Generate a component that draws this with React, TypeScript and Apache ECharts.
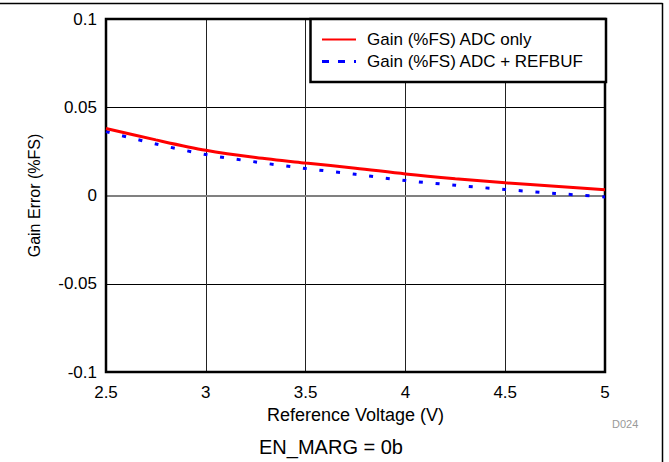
import React, { useEffect, useRef } from "react";
import * as echarts from "echarts";

const voltages = [2.5, 2.75, 3.0, 3.25, 3.5, 3.75, 4.0, 4.25, 4.5, 4.75, 5.0];
const adcOnly = [0.038, 0.0315, 0.0256, 0.0215, 0.0184, 0.0155, 0.0122, 0.0095, 0.0072, 0.0052, 0.0032];
const adcRefbuf = [0.0362, 0.0292, 0.0232, 0.019, 0.0153, 0.012, 0.0085, 0.0058, 0.0034, 0.0012, -0.0008];
const seriesNames = ["Gain (%FS) ADC only", "Gain (%FS) ADC + REFBUF"];
const yTickLabels: Record<string, string> = { "-0.1": "-0.1", "-0.05": "-0.05", "0": "0", "0.05": "0.05", "0.1": "0.1" };
const xTickLabels: Record<string, string> = { "2.5": "2.5", "3": "3", "3.5": "3.5", "4": "4", "4.5": "4.5", "5": "5" };

const FONT = "Liberation Sans, Arial, sans-serif";

export default function App() {
  const ref = useRef<HTMLDivElement>(null);
  useEffect(() => {
    if (!ref.current) return;
    const chart = echarts.init(ref.current, undefined, { renderer: "svg" });
    const pairs = (ys: number[]) => voltages.map((v, i) => [v, ys[i]]);
    chart.setOption({
      animation: false,
      backgroundColor: "#ffffff",
      textStyle: { fontFamily: FONT },
      grid: {
        left: 106,
        right: 64,
        top: 19,
        bottom: 90,
        show: true,
        borderColor: "#000",
        borderWidth: 2.5,
        backgroundColor: "transparent",
        z: 3,
      },
      xAxis: {
        type: "value",
        min: 2.5,
        max: 5,
        interval: 0.5,
        name: "Reference Voltage (V)",
        nameLocation: "middle",
        nameGap: 34,
        nameTextStyle: { fontSize: 18, color: "#000", fontFamily: FONT },
        axisLine: { show: false },
        axisTick: { show: false },
        axisLabel: {
          fontSize: 17,
          color: "#000",
          margin: 12,
          fontFamily: FONT,
          formatter: (v: number) => xTickLabels[String(Math.round(v * 100) / 100)] ?? String(v),
        },
        splitLine: { show: true, lineStyle: { color: "#222", width: 1 } },
      },
      yAxis: {
        type: "value",
        min: -0.1,
        max: 0.1,
        interval: 0.05,
        name: "Gain Error (%FS)",
        nameLocation: "middle",
        nameGap: 64,
        nameTextStyle: { fontSize: 16, color: "#000", fontFamily: FONT },
        axisLine: { show: false },
        axisTick: { show: false },
        axisLabel: {
          fontSize: 17,
          color: "#000",
          margin: 9,
          fontFamily: FONT,
          formatter: (v: number) => yTickLabels[String(Math.round(v * 1000) / 1000)] ?? String(v),
        },
        splitLine: {
          show: true,
          lineStyle: { color: ["#000", "#000", "#808080", "#000", "#000"], width: 1 },
        },
      },
      legend: {
        orient: "vertical",
        right: 63,
        top: 19,
        backgroundColor: "#fff",
        borderColor: "#000",
        borderWidth: 2.5,
        borderRadius: 0,
        padding: [12, 9, 12, 10],
        itemWidth: 34,
        itemHeight: 16,
        itemGap: 5,
        itemStyle: { opacity: 0 },
        textStyle: {
          fontSize: 17,
          lineHeight: 16,
          color: "#000",
          fontFamily: FONT,
          width: 230,
          padding: [0, 0, 0, 6],
        },
        data: [
          { name: seriesNames[0], itemStyle: { opacity: 0 } },
          { name: seriesNames[1], itemStyle: { opacity: 0 }, lineStyle: { type: [7, 9], width: 3, color: "#0000ff" } },
        ],
        z: 10,
      },
      series: [
        {
          name: seriesNames[0],
          type: "line",
          data: pairs(adcOnly),
          smooth: 0.3,
          symbol: "none",
          lineStyle: { color: "#ff0000", width: 3 },
          itemStyle: { color: "#ff0000" },
          z: 5,
          markLine: {
            silent: true,
            symbol: "none",
            label: { show: false },
            lineStyle: { color: "#808080", width: 2, type: "solid" },
            data: [{ yAxis: 0 }],
            z: 1,
          },
        },
        {
          name: seriesNames[1],
          type: "line",
          data: pairs(adcRefbuf),
          smooth: 0.3,
          symbol: "none",
          lineStyle: { color: "#0000ff", width: 3, type: [4, 12.7] },
          itemStyle: { color: "#0000ff" },
          z: 4,
        },
      ],
      graphic: [
        { type: "line", shape: { x1: 0, y1: 3.5, x2: 662.5, y2: 3.5 }, style: { stroke: "#000", lineWidth: 1.5 } },
        { type: "line", shape: { x1: 662.5, y1: 3, x2: 662.5, y2: 462 }, style: { stroke: "#000", lineWidth: 1.5 } },
        {
          type: "text",
          left: 612,
          top: 418,
          style: { text: "D024", fontSize: 11, fill: "#999", fontFamily: FONT },
        },
        {
          type: "text",
          x: 331,
          y: 447,
          style: {
            text: "EN_MARG = 0b",
            fontSize: 20,
            fill: "#000",
            fontFamily: FONT,
            align: "center",
            verticalAlign: "middle",
          },
        },
      ],
    });
    return () => chart.dispose();
  }, []);
  return <div ref={ref} style={{ position: "fixed", left: 0, top: 0, width: 669, height: 462 }} />;
}
